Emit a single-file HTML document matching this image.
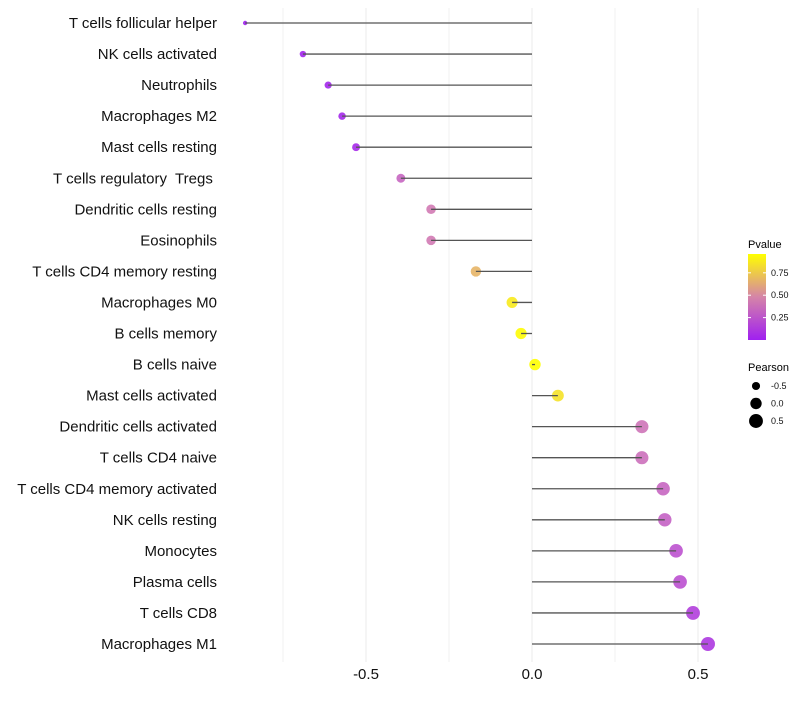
<!DOCTYPE html>
<html><head><meta charset="utf-8"><style>
body{margin:0;background:#fff;font-family:"Liberation Sans",Arial,sans-serif}
text{white-space:pre}
</style></head><body>
<svg id="chart" width="800" height="700" xmlns="http://www.w3.org/2000/svg">
<defs><linearGradient id="pg" x1="0" y1="1" x2="0" y2="0">
<stop offset="0" stop-color="#a020f0"/><stop offset="0.5" stop-color="#d584a8"/><stop offset="1" stop-color="#ffff00"/></linearGradient></defs>
<g id="grid"></g>
<g id="marks"></g>
<g id="labels"></g>
<g id="xt"></g>
<g>
<text x="748" y="248" font-size="11" fill="#000">Pvalue</text>
<rect x="748" y="254" width="18" height="86" fill="url(#pg)"/>
<g id="cbt"></g>
</g>
<g>
<text x="748" y="371" font-size="11" fill="#000">Pearson</text>
<g id="szl"></g>
</g>
</svg>
<script>
const categories=["T cells follicular helper","NK cells activated","Neutrophils","Macrophages M2","Mast cells resting","T cells regulatory  Tregs ","Dendritic cells resting","Eosinophils","T cells CD4 memory resting","Macrophages M0","B cells memory","B cells naive","Mast cells activated","Dendritic cells activated","T cells CD4 naive","T cells CD4 memory activated","NK cells resting","Monocytes","Plasma cells","T cells CD8","Macrophages M1"];
const pearson=[-0.864,-0.69,-0.614,-0.572,-0.53,-0.395,-0.304,-0.304,-0.169,-0.06,-0.033,0.009,0.078,0.331,0.331,0.395,0.40,0.434,0.446,0.485,0.53];
const pvalue=[0.0,0.02,0.03,0.04,0.05,0.35,0.45,0.45,0.68,0.88,0.95,0.99,0.85,0.42,0.4,0.35,0.33,0.25,0.24,0.15,0.12];
const xTicks=[-0.5,0.0,0.5];
const xTickLabels=["-0.5","0.0","0.5"];
const xMinor=[-0.75,-0.25,0.25];
const cbTicks=[0.25,0.5,0.75];
const cbTickLabels=["0.25","0.50","0.75"];
const sizeLegend=[-0.5,0,0.5];
const sizeLegendLabels=["-0.5","0.0","0.5"];
const NS="http://www.w3.org/2000/svg";
const x=v=>532+v*332;
const y=i=>23+i*31.05;
const r=v=>Math.sqrt(Math.max(1,5+31.8*(v+0.86)));
function lerp(a,b,t){return a.map((c,i)=>Math.round(c+(b[i]-c)*t));}
function col(p){const s=[[160,32,240],[213,128,176],[255,255,0]];p=Math.max(0,Math.min(1,p/0.96));
const c=p<0.5?lerp(s[0],s[1],p*2):lerp(s[1],s[2],(p-0.5)*2);return `rgb(${c})`;}
function mk(t,a,parent){const e=document.createElementNS(NS,t);for(const k in a)e.setAttribute(k,a[k]);parent.appendChild(e);return e;}
const grid=document.getElementById('grid'),marks=document.getElementById('marks'),labels=document.getElementById('labels'),xt=document.getElementById('xt');
xMinor.forEach(v=>{const l=mk('line',{x1:x(v),x2:x(v),y1:8,y2:662,stroke:'#f0f0f0','stroke-width':1},grid);

});
xTicks.forEach((v,i)=>{const l=mk('line',{x1:x(v),x2:x(v),y1:8,y2:662,stroke:'#ebebeb','stroke-width':1},grid);


const t=mk('text',{x:x(v),y:679,'font-size':15,'text-anchor':'middle',fill:'#111'},xt);t.textContent=xTickLabels[i];

});
categories.forEach((c,i)=>{
const t=mk('text',{x:217,y:y(i)+5,'font-size':15,'text-anchor':'end',fill:'#111'},labels);t.textContent=c;


const d=mk('circle',{cx:x(pearson[i]),cy:y(i),r:r(pearson[i]),fill:col(pvalue[i]),opacity:0.9},marks);


const l=mk('line',{x1:x(0),x2:x(pearson[i]),y1:y(i),y2:y(i),stroke:'#555','stroke-width':1.3},marks);

});
const cbt=document.getElementById('cbt');
cbTicks.forEach((v,i)=>{const yy=340-v/0.96*86;
mk('line',{x1:748,x2:751,y1:yy,y2:yy,stroke:'#fff'},cbt);mk('line',{x1:763,x2:766,y1:yy,y2:yy,stroke:'#fff'},cbt);
const t=mk('text',{x:771,y:yy+3,'font-size':9,fill:'#111'},cbt);t.textContent=cbTickLabels[i];

});
const szl=document.getElementById('szl');
sizeLegend.forEach((v,i)=>{const yy=386+i*17.5;
const c=mk('circle',{cx:756,cy:yy,r:r(v),fill:'#000'},szl);


const t=mk('text',{x:771,y:yy+3,'font-size':9,fill:'#111'},szl);t.textContent=sizeLegendLabels[i];

});
</script>
</body></html>
